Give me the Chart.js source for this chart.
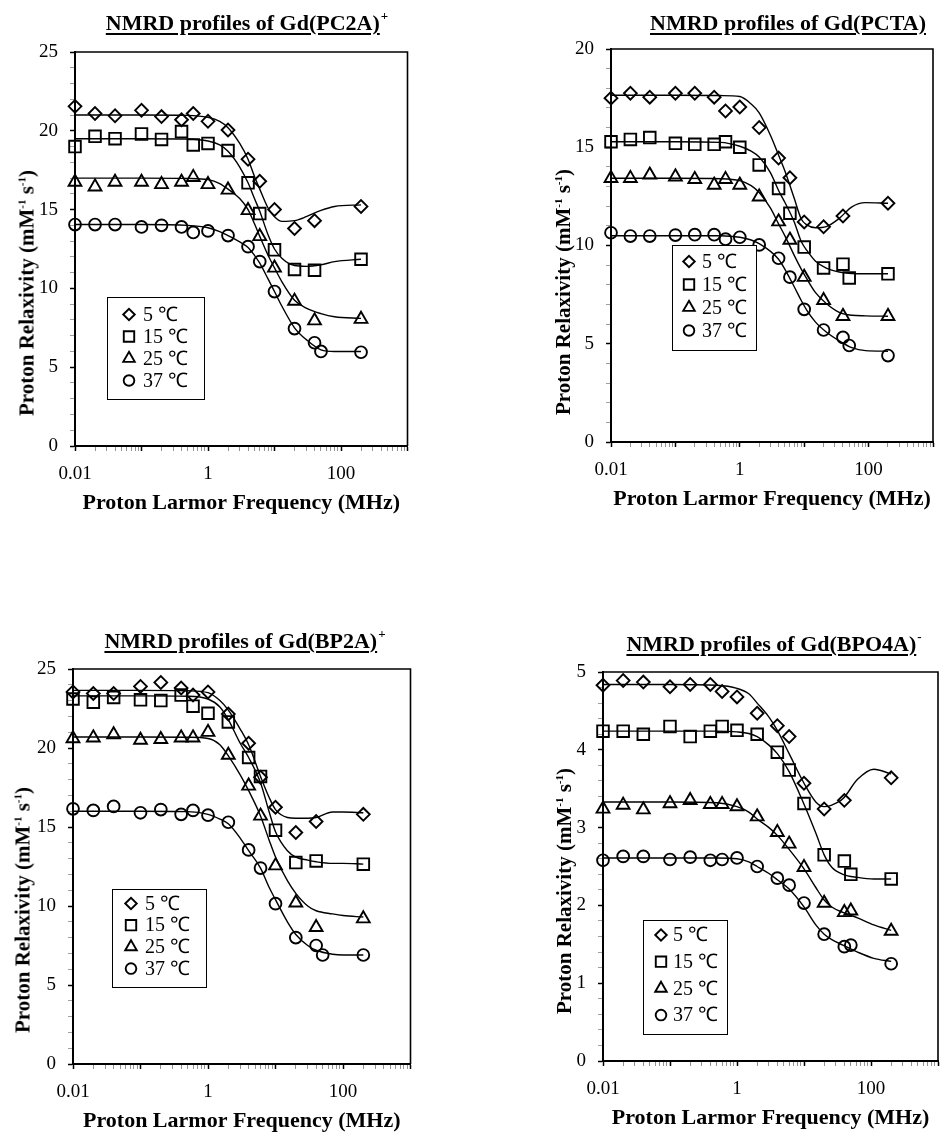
<!DOCTYPE html>
<html>
<head>
<meta charset="utf-8">
<script src="https://cdn.jsdelivr.net/npm/chart.js@4.4.1/dist/chart.umd.min.js"></script>
<style>
html,body{margin:0;padding:0;background:#fff;width:941px;height:1135px;overflow:hidden;position:relative;}
canvas{position:absolute;}
.ttl{position:absolute;font-family:"Liberation Serif","Times New Roman",serif;font-weight:bold;font-size:22px;line-height:22px;white-space:nowrap;transform:translateX(-50%);color:#000;}
.ttl .u{text-decoration:underline;text-decoration-thickness:2px;text-underline-offset:3px;}
.ttl sup{font-size:13px;line-height:0;position:relative;top:-2px;margin-left:1px;}
.ytl{position:absolute;font-family:"Liberation Serif","Times New Roman",serif;font-weight:bold;font-size:21px;line-height:21px;white-space:nowrap;transform:translate(-50%,-50%) rotate(-90deg);color:#000;}
.ytl sup{font-size:11px;line-height:0;}
</style>
</head>
<body>
<canvas id="c1" width="470" height="540" style="left:0px;top:0px;"></canvas>
<canvas id="c2" width="405" height="540" style="left:540px;top:0px;"></canvas>
<canvas id="c3" width="470" height="575" style="left:0px;top:570px;"></canvas>
<canvas id="c4" width="410" height="575" style="left:540px;top:570px;"></canvas>

<div class="ttl" style="left:247px;top:12px;"><span class="u">NMRD profiles of Gd(PC2A)</span><sup>+</sup></div>
<div class="ttl" style="left:788px;top:12px;"><span class="u">NMRD profiles of Gd(PCTA)</span></div>
<div class="ttl" style="left:245px;top:630px;"><span class="u">NMRD profiles of Gd(BP2A)</span><sup>+</sup></div>
<div class="ttl" style="left:774px;top:633px;"><span class="u">NMRD profiles of Gd(BPO4A)</span><sup>-</sup></div>

<div class="ytl" style="left:27px;top:293px;">Proton Relaxivity (mM<sup>-1</sup> s<sup>-1</sup>)</div>
<div class="ytl" style="left:563px;top:292px;">Proton Relaxivity (mM<sup>-1</sup> s<sup>-1</sup>)</div>
<div class="ytl" style="left:23px;top:910px;">Proton Relaxivity (mM<sup>-1</sup> s<sup>-1</sup>)</div>
<div class="ytl" style="left:564px;top:891px;">Proton Relaxivity (mM<sup>-1</sup> s<sup>-1</sup>)</div>

<script>
// ---------- shared labels ----------
const tempLabels = ['5 \u2103', '15 \u2103', '25 \u2103', '37 \u2103'];
const xTitle = 'Proton Larmor Frequency (MHz)';
const xTickValues = [0.01, 1, 100];
const xTickLabels = ['0.01', '1', '100'];

// ---------- Gd(PC2A)+ ----------
const pc2aFreq   = [0.01,0.02,0.04,0.1,0.2,0.4,0.6,1,2,4,6,10,20,40,200];
const pc2aFreq37 = [0.01,0.02,0.04,0.1,0.2,0.4,0.6,1,2,4,6,10,20,40,50,200];
const pc2a5  = [21.55,21.1,20.95,21.3,20.9,20.7,21.1,20.6,20.05,18.2,16.8,15.0,13.8,14.3,15.2];
const pc2a15 = [19.0,19.65,19.5,19.8,19.45,19.95,19.1,19.2,18.75,16.7,14.75,12.45,11.2,11.15,11.85];
const pc2a25 = [16.75,16.45,16.75,16.75,16.6,16.75,17.05,16.6,16.25,14.95,13.3,11.3,9.2,7.95,8.05];
const pc2a37 = [14.05,14.05,14.05,13.9,14.0,13.9,13.55,13.65,13.35,12.65,11.7,9.8,7.45,6.55,6.0,5.95];
const pc2aFitFreq = [0.01,0.1,0.5,1,1.5,2,3,4,5,6,8,10,13,20,30,50,80,200];
const pc2aFit5  = [21.0,21.0,20.98,20.85,20.6,20.2,19.2,18.2,17.1,16.3,15.1,14.55,14.25,14.3,14.55,14.95,15.2,15.3];
const pc2aFit15 = [19.5,19.5,19.48,19.35,19.1,18.7,17.7,16.7,15.7,14.9,13.4,12.5,11.9,11.45,11.4,11.5,11.7,11.85];
const pc2aFit25 = [17.0,17.0,16.98,16.9,16.65,16.3,15.7,15.0,14.1,13.3,12.1,11.3,10.4,9.25,8.75,8.4,8.2,8.1];
const pc2aFit37 = [14.05,14.05,14.0,13.85,13.6,13.35,12.95,12.6,12.1,11.6,10.6,9.8,8.85,7.5,6.75,6.1,6.0,6.0];
const pc2aYLabels = [0,5,10,15,20,25];

// ---------- Gd(PCTA) ----------
const pctaFreq  = [0.01,0.02,0.04,0.1,0.2,0.4,0.6,1,2,4,6,10,20,40,200];
const pctaFreqX = [0.01,0.02,0.04,0.1,0.2,0.4,0.6,1,2,4,6,10,20,40,50,200];
const pcta5  = [17.5,17.75,17.55,17.75,17.75,17.55,16.85,17.05,16.0,14.45,13.45,11.2,10.95,11.5,12.15];
const pcta15 = [15.28,15.4,15.49,15.2,15.15,15.15,15.28,15.0,14.1,12.9,11.64,9.92,8.86,9.05,8.35,8.56];
const pcta25 = [13.42,13.42,13.59,13.5,13.37,13.08,13.37,13.08,12.48,11.21,10.28,8.39,7.21,6.4,6.4];
const pcta37 = [10.65,10.48,10.48,10.53,10.55,10.55,10.32,10.42,10.03,9.35,8.39,6.75,5.7,5.32,4.91,4.4];
const pctaFitFreq = [0.01,0.1,0.5,1,1.5,2,3,4,5,7,9,11,15,22,35,55,90,200];
const pctaFit5  = [17.65,17.65,17.63,17.58,17.2,16.75,15.6,14.6,13.8,12.4,11.35,11.05,10.9,10.96,11.38,11.97,12.18,12.15];
const pctaFit15 = [15.28,15.28,15.25,15.05,14.8,14.5,13.7,12.8,12.2,11.2,10.2,9.75,9.2,8.85,8.65,8.57,8.56,8.56];
const pctaFit25 = [13.42,13.42,13.4,13.3,13.05,12.7,11.9,11.1,10.5,9.5,8.8,8.3,7.6,7.05,6.6,6.45,6.42,6.4];
const pctaFit37 = [10.5,10.5,10.5,10.42,10.28,10.1,9.7,9.3,8.8,7.9,7.2,6.7,6.1,5.6,5.15,4.8,4.65,4.62];
const pctaYLabels = [0,5,10,15,20];

// ---------- Gd(BP2A)+ ----------
const bp2aFreq   = [0.01,0.02,0.04,0.1,0.2,0.4,0.6,1,2,4,6,10,20,40,200];
const bp2aFreq37 = [0.01,0.02,0.04,0.1,0.2,0.4,0.6,1,2,4,6,10,20,40,50,200];
const bp2a5  = [23.55,23.45,23.45,23.9,24.15,23.8,23.35,23.55,22.15,20.3,18.15,16.25,14.65,15.35,15.8];
const bp2a15 = [23.1,22.9,23.2,23.05,23.0,23.35,22.65,22.2,21.65,19.4,18.2,14.8,12.75,12.85,12.65];
const bp2a25 = [20.6,20.65,20.85,20.5,20.55,20.65,20.65,21.0,19.55,17.6,15.7,12.55,10.2,8.65,9.2];
const bp2a37 = [16.15,16.05,16.3,15.9,16.1,15.8,16.05,15.75,15.3,13.55,12.4,10.15,8.0,7.5,6.9,6.9];
const bp2aFitFreq = [0.01,0.1,0.5,1,1.5,2,3,4,6,8,10,15,20,30,40,70,100,200];
const bp2aFit5  = [23.65,23.65,23.62,23.5,23.0,22.4,21.2,20.2,18.2,16.9,16.1,15.6,15.55,15.55,15.6,15.95,15.95,15.9];
const bp2aFit15 = [23.3,23.3,23.28,23.1,22.6,21.8,20.3,19.4,17.8,16.0,14.7,13.5,13.1,12.9,12.8,12.7,12.7,12.65];
const bp2aFit25 = [20.7,20.7,20.68,20.6,20.2,19.5,18.3,17.3,15.7,14.2,13.1,11.6,10.8,10.0,9.7,9.5,9.4,9.3];
const bp2aFit37 = [16.0,16.0,15.97,15.8,15.5,15.2,14.3,13.5,12.4,11.2,10.4,9.0,8.2,7.5,7.2,6.95,6.9,6.9];
const bp2aYLabels = [0,5,10,15,20,25];

// ---------- Gd(BPO4A)- ----------
const bpo4aFreq  = [0.01,0.02,0.04,0.1,0.2,0.4,0.6,1,2,4,6,10,20,40,200];
const bpo4aFreqX = [0.01,0.02,0.04,0.1,0.2,0.4,0.6,1,2,4,6,10,20,40,50,200];
const bpo4a5  = [4.83,4.89,4.87,4.81,4.84,4.84,4.75,4.68,4.47,4.31,4.17,3.57,3.24,3.35,3.64];
const bpo4a15 = [4.24,4.24,4.2,4.3,4.17,4.24,4.3,4.25,4.2,3.97,3.74,3.31,2.65,2.57,2.4,2.34];
const bpo4a25 = [3.24,3.29,3.23,3.31,3.35,3.3,3.3,3.27,3.14,2.94,2.79,2.49,2.03,1.91,1.93,1.67];
const bpo4a37 = [2.58,2.63,2.63,2.59,2.62,2.58,2.59,2.61,2.5,2.35,2.26,2.03,1.63,1.47,1.49,1.25];
const bpo4aFitFreq = [0.01,0.1,0.5,1,1.5,2,3,4,6,10,15,20,26,38,63,110,200];
const bpo4aFit5  = [4.84,4.84,4.83,4.79,4.72,4.6,4.42,4.25,3.95,3.57,3.33,3.27,3.29,3.37,3.62,3.75,3.69];
const bpo4aFit15 = [4.24,4.24,4.24,4.23,4.21,4.17,4.06,3.95,3.72,3.3,2.93,2.65,2.49,2.4,2.36,2.34,2.34];
const bpo4aFit25 = [3.33,3.33,3.32,3.27,3.2,3.11,3.0,2.9,2.72,2.47,2.23,2.07,1.98,1.91,1.84,1.75,1.68];
const bpo4aFit37 = [2.61,2.61,2.61,2.6,2.56,2.5,2.41,2.33,2.21,1.98,1.75,1.63,1.56,1.49,1.4,1.32,1.28];
const bpo4aYLabels = [0,1,2,3,4,5];

// ---------- drawing ----------
const FONT = "'Liberation Serif','Times New Roman',serif";
const STYLES = ['rectRot', 'rect', 'triangle', 'circle'];
const RADII = [6.4, 8.2, 7.4, 5.9];
const MARK_W = 1.9;

// log-axis tick marks (decades + minor 2..9)
const xMarks = [];
for (let e = -2; e <= 2; e++) {
  for (let m = 1; m <= 9; m++) xMarks.push(Number((m * Math.pow(10, e)).toPrecision(6)));
}
xMarks.push(1000);
const isDecade = v => Math.abs(Math.log10(v) - Math.round(Math.log10(v))) < 1e-6;

function drawMarker(ctx, style, x, y, r) {
  ctx.beginPath();
  if (style === 'rectRot') {
    ctx.moveTo(x - r, y); ctx.lineTo(x, y - r); ctx.lineTo(x + r, y); ctx.lineTo(x, y + r); ctx.closePath();
  } else if (style === 'rect') {
    const s = r * Math.SQRT1_2; ctx.rect(x - s, y - s, 2 * s, 2 * s);
  } else if (style === 'triangle') {
    const w = r * Math.sin(Math.PI / 3);
    ctx.moveTo(x, y - r); ctx.lineTo(x + w, y + r / 2); ctx.lineTo(x - w, y + r / 2); ctx.closePath();
  } else {
    ctx.arc(x, y, r, 0, Math.PI * 2);
  }
  ctx.stroke();
}

const frameBox = {
  id: 'frameBox',
  beforeDatasetsDraw(chart) {
    const { ctx, chartArea: a } = chart;
    ctx.save();
    ctx.strokeStyle = '#000'; ctx.lineWidth = 1.6;
    ctx.beginPath();
    ctx.moveTo(a.left, a.top); ctx.lineTo(a.right, a.top); ctx.lineTo(a.right, a.bottom);
    ctx.stroke();
    ctx.restore();
  }
};

const boxLegend = {
  id: 'boxLegend',
  afterDraw(chart, args, o) {
    if (!o || !o.w) return;
    const { ctx, chartArea: a } = chart;
    const L = a.left + o.left, T = a.top + o.top;
    ctx.save();
    ctx.fillStyle = '#fff';
    ctx.fillRect(L, T, o.w, o.h);
    ctx.strokeStyle = '#000'; ctx.lineWidth = 1;
    ctx.strokeRect(L + 0.5, T + 0.5, o.w, o.h);
    ctx.font = '20px ' + FONT;
    ctx.textBaseline = 'middle'; ctx.textAlign = 'left'; ctx.fillStyle = '#000';
    for (let i = 0; i < 4; i++) {
      const ds = chart.data.datasets[i];
      const y = T + o.row0 + i * o.gap;
      ctx.lineWidth = MARK_W; ctx.strokeStyle = '#000';
      drawMarker(ctx, STYLES[i], L + o.mx, y, RADII[i] * 0.9);
      ctx.fillText(ds.label, L + o.tx, y + 1);
    }
    ctx.restore();
  }
};

function pts(xs, ys) { return xs.map((x, i) => ({ x: x, y: ys[i] })); }

function buildPanel(p) {
  const datasets = [];
  p.series.forEach((s, i) => {
    datasets.push({
      label: tempLabels[i], data: pts(s[0], s[1]), showLine: false,
      pointStyle: STYLES[i], pointRadius: RADII[i], pointBorderWidth: MARK_W,
      pointBorderColor: '#000', pointBackgroundColor: 'rgba(0,0,0,0)', clip: false
    });
  });
  p.fits.forEach((f, i) => {
    datasets.push({
      label: 'fit ' + tempLabels[i], data: pts(p.fitFreq, f), showLine: true,
      borderColor: '#000', borderWidth: 1.4, pointRadius: 0, fill: false,
      cubicInterpolationMode: 'monotone', clip: false
    });
  });
  const majorY = p.yLabels[1] - p.yLabels[0];
  const isMajorY = v => Math.abs(v / majorY - Math.round(v / majorY)) < 1e-6;
  new Chart(document.getElementById(p.id), {
    type: 'scatter',
    data: { datasets },
    plugins: [frameBox, boxLegend],
    options: {
      responsive: false, animation: false, devicePixelRatio: 1,
      layout: { padding: p.pad },
      plugins: { legend: { display: false }, tooltip: { enabled: false }, title: { display: false },
                 boxLegend: p.legend },
      scales: {
        x: {
          type: 'logarithmic', min: 0.01, max: 1000, position: 'bottom',
          afterBuildTicks: sc => { sc.ticks = xMarks.map(v => ({ value: v, major: isDecade(v) })); },
          afterFit: sc => { sc.height = 71; },
          ticks: {
            autoSkip: false, maxRotation: 0, minRotation: 0, padding: 12, color: '#000',
            font: { family: FONT, size: 19 },
            callback: v => { const k = xTickValues.findIndex(t => Math.abs(t - v) / t < 1e-6); return k >= 0 ? xTickLabels[k] : ''; }
          },
          grid: {
            drawOnChartArea: false, drawTicks: true, tickLength: 5,
            tickColor: c => (c.tick && isDecade(c.tick.value)) ? '#000' : '#777',
            tickWidth: c => (c.tick && isDecade(c.tick.value)) ? 1.5 : 0.8
          },
          border: { display: true, color: '#000', width: 2 },
          title: { display: true, text: xTitle, color: '#000', padding: 0, font: { family: FONT, size: 22, weight: 'bold' } }
        },
        y: {
          type: 'linear', min: 0, max: p.yLabels[p.yLabels.length - 1], position: 'left',
          afterFit: sc => { sc.width = p.yW; },
          ticks: {
            stepSize: majorY / 5, autoSkip: false, padding: 12, color: '#000',
            font: { family: FONT, size: 19 },
            callback: v => isMajorY(v) ? String(Math.round(v * 1000) / 1000) : ''
          },
          grid: {
            drawOnChartArea: false, drawTicks: true, tickLength: 5,
            tickColor: c => (c.tick && isMajorY(c.tick.value)) ? '#000' : '#888',
            tickWidth: c => (c.tick && isMajorY(c.tick.value)) ? 1.5 : 0.8
          },
          border: { display: true, color: '#000', width: 2 }
        }
      }
    }
  });
}

buildPanel({
  id: 'c1', yW: 75, pad: { top: 52, left: 0, right: 62.5, bottom: 23 }, yLabels: pc2aYLabels,
  series: [[pc2aFreq, pc2a5], [pc2aFreq, pc2a15], [pc2aFreq, pc2a25], [pc2aFreq37, pc2a37]],
  fitFreq: pc2aFitFreq, fits: [pc2aFit5, pc2aFit15, pc2aFit25, pc2aFit37],
  legend: { left: 32, top: 245, w: 97, h: 102, row0: 17.5, gap: 22, mx: 22, tx: 36 }
});
buildPanel({
  id: 'c2', yW: 71, pad: { top: 49, left: 0, right: 1.5, bottom: 27 }, yLabels: pctaYLabels,
  series: [[pctaFreq, pcta5], [pctaFreqX, pcta15], [pctaFreq, pcta25], [pctaFreqX, pcta37]],
  fitFreq: pctaFitFreq, fits: [pctaFit5, pctaFit15, pctaFit25, pctaFit37],
  legend: { left: 61, top: 196, w: 84, h: 105, row0: 16.5, gap: 23, mx: 17, tx: 30 }
});
buildPanel({
  id: 'c3', yW: 73, pad: { top: 99, left: 0, right: 59.5, bottom: 10 }, yLabels: bp2aYLabels,
  series: [[bp2aFreq, bp2a5], [bp2aFreq, bp2a15], [bp2aFreq, bp2a25], [bp2aFreq37, bp2a37]],
  fitFreq: bp2aFitFreq, fits: [bp2aFit5, bp2aFit15, bp2aFit25, bp2aFit37],
  legend: { left: 39, top: 220, w: 94, h: 98, row0: 14.5, gap: 21.7, mx: 19, tx: 33 }
});
buildPanel({
  id: 'c4', yW: 63, pad: { top: 102, left: 0, right: 4.5, bottom: 13 }, yLabels: bpo4aYLabels,
  series: [[bpo4aFreq, bpo4a5], [bpo4aFreqX, bpo4a15], [bpo4aFreqX, bpo4a25], [bpo4aFreqX, bpo4a37]],
  fitFreq: bpo4aFitFreq, fits: [bpo4aFit5, bpo4aFit15, bpo4aFit25, bpo4aFit37],
  legend: { left: 40, top: 248, w: 84, h: 114, row0: 15, gap: 26.7, mx: 18, tx: 30 }
});
</script>
</body>
</html>
